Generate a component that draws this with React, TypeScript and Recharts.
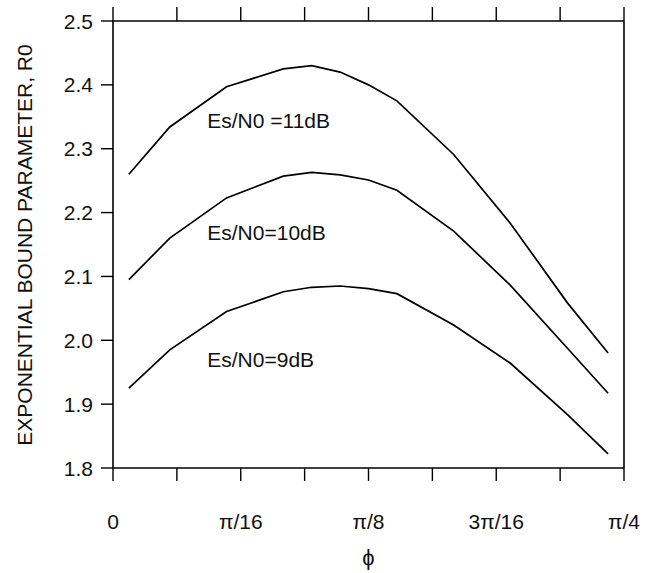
import React from 'react';
import { LineChart, Line, XAxis, YAxis, ReferenceDot } from 'recharts';

// phi in degrees (0..45 deg = 0..pi/4)
const phiDeg = [1.4, 5, 10, 15, 17.5, 20, 22.5, 25, 30, 35, 40, 43.6];
const r0At11dB = [2.26, 2.334, 2.397, 2.425, 2.43, 2.42, 2.4, 2.375, 2.291, 2.183, 2.059, 1.98];
const r0At10dB = [2.095, 2.16, 2.223, 2.257, 2.263, 2.259, 2.251, 2.235, 2.171, 2.086, 1.988, 1.917];
const r0At9dB = [1.925, 1.985, 2.045, 2.076, 2.083, 2.085, 2.081, 2.073, 2.024, 1.964, 1.884, 1.822];

const xTicks = [0, 5.625, 11.25, 16.875, 22.5, 28.125, 33.75, 39.375, 45];
const xTickLabels = ['0', '', 'π/16', '', 'π/8', '', '3π/16', '', 'π/4'];
const yTicks = [1.8, 1.9, 2.0, 2.1, 2.2, 2.3, 2.4, 2.5];

const curveLabels = [
  { x: 8.3, y: 2.344, text: 'Es/N0 =11dB' },
  { x: 8.3, y: 2.169, text: 'Es/N0=10dB' },
  { x: 8.3, y: 1.97, text: 'Es/N0=9dB' },
];

const data = phiDeg.map((p, i) => ({
  phi: p,
  s11: r0At11dB[i],
  s10: r0At10dB[i],
  s9: r0At9dB[i],
}));

const FONT = '"Liberation Sans", Arial, sans-serif';

const XTick = (props: any) => {
  const { x, y, index } = props;
  const label = xTickLabels[index] ?? '';
  return (
    <text x={x} y={y} textAnchor="middle" dominantBaseline="central" fontFamily={FONT} fontSize={21} fill="#111">
      {label}
    </text>
  );
};

const YTick = (props: any) => {
  const { x, y, payload } = props;
  return (
    <text x={x} y={y} textAnchor="end" dominantBaseline="central" fontFamily={FONT} fontSize={21} fill="#111">
      {Number(payload.value).toFixed(1)}
    </text>
  );
};

const EmptyTick = () => <g />;

const CurveLabel = (text: string) => (props: any) => {
  const { viewBox } = props;
  const cx = viewBox.x + viewBox.width / 2;
  const cy = viewBox.y + viewBox.height / 2;
  return (
    <text x={cx} y={cy} textAnchor="start" dominantBaseline="central" fontFamily={FONT} fontSize={21} fill="#111">
      {text}
    </text>
  );
};

const YTitle = () => (
  <text
    x={24}
    y={245}
    transform="rotate(-90, 24, 245)"
    textAnchor="middle"
    dominantBaseline="central"
    fontFamily={FONT}
    fontSize={21}
    fill="#111"
  >
    EXPONENTIAL BOUND PARAMETER, R0
  </text>
);

export default function App() {
  return (
    <div style={{ position: 'absolute', left: 0, top: 0, background: '#fff' }}>
      <LineChart width={646} height={573} data={data} margin={{ top: 0, right: 0, bottom: 0, left: 0 }}>
        <XAxis
          xAxisId="b"
          dataKey="phi"
          type="number"
          domain={[0, 45]}
          ticks={xTicks}
          orientation="bottom"
          height={105}
          tickSize={13}
          tickMargin={40}
          tick={<XTick />}
          axisLine={{ stroke: '#000', strokeWidth: 1.6 }}
          tickLine={{ stroke: '#000', strokeWidth: 1.4 }}
          label={{ value: 'ϕ', position: 'insideBottom', offset: 8, fontFamily: FONT, fontSize: 22, fill: '#111' }}
        />
        <XAxis
          xAxisId="t"
          dataKey="phi"
          type="number"
          domain={[0, 45]}
          ticks={xTicks}
          orientation="top"
          height={21}
          tickSize={14}
          tick={<EmptyTick />}
          axisLine={{ stroke: '#000', strokeWidth: 1.6 }}
          tickLine={{ stroke: '#000', strokeWidth: 1.4 }}
        />
        <YAxis
          yAxisId="l"
          type="number"
          domain={[1.8, 2.5]}
          ticks={yTicks}
          orientation="left"
          width={113}
          tickSize={12}
          tickMargin={8}
          tick={<YTick />}
          axisLine={{ stroke: '#000', strokeWidth: 1.6 }}
          tickLine={{ stroke: '#000', strokeWidth: 1.4 }}
          label={<YTitle />}
        />
        <YAxis
          yAxisId="r"
          type="number"
          domain={[1.8, 2.5]}
          ticks={yTicks}
          orientation="right"
          width={22}
          tickSize={12}
          tick={<EmptyTick />}
          axisLine={{ stroke: '#000', strokeWidth: 1.6 }}
          tickLine={{ stroke: '#000', strokeWidth: 1.4 }}
        />
        <Line xAxisId="b" yAxisId="l" type="linear" dataKey="s11" stroke="#000" strokeWidth={1.7} dot={false} isAnimationActive={false} />
        <Line xAxisId="b" yAxisId="l" type="linear" dataKey="s10" stroke="#000" strokeWidth={1.7} dot={false} isAnimationActive={false} />
        <Line xAxisId="b" yAxisId="l" type="linear" dataKey="s9" stroke="#000" strokeWidth={1.7} dot={false} isAnimationActive={false} />
        {curveLabels.map((c) => (
          <ReferenceDot
            key={c.text}
            xAxisId="b"
            yAxisId="l"
            x={c.x}
            y={c.y}
            r={0}
            fill="none"
            stroke="none"
            label={CurveLabel(c.text)}
          />
        ))}
      </LineChart>
    </div>
  );
}
